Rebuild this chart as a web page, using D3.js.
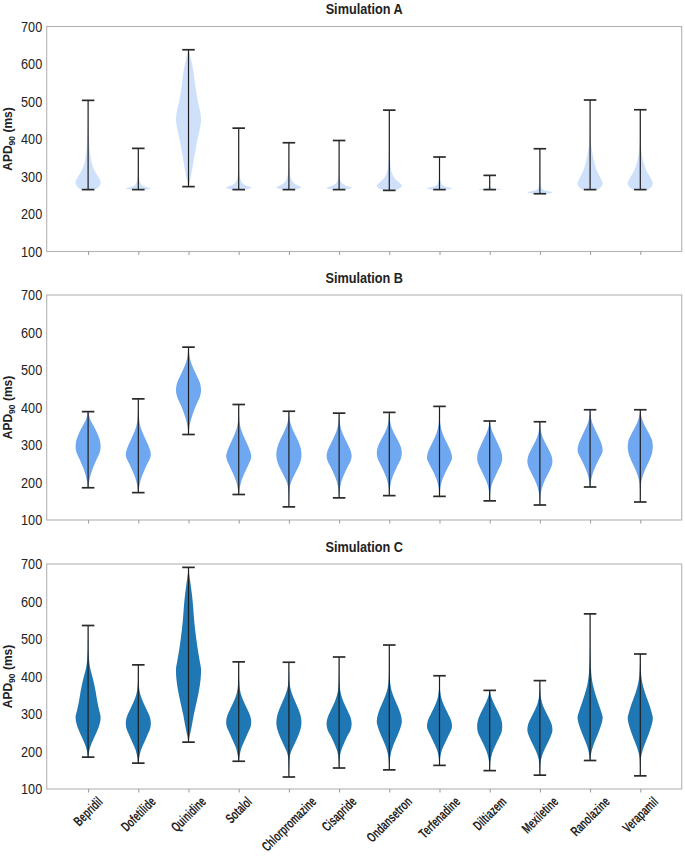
<!DOCTYPE html>
<html><head><meta charset="utf-8">
<script src="https://cdn.jsdelivr.net/npm/d3@7"></script>
<style>
html,body{margin:0;padding:0;background:#fff;}
svg{display:block;}
</style></head>
<body>
<svg id="chart" width="685" height="860"></svg>
<script>
// ---------- data ----------
const drugs = ["Bepridil","Dofetilide","Quinidine","Sotalol","Chlorpromazine","Cisapride",
  "Ondansetron","Terfenadine","Diltiazem","Mexiletine","Ranolazine","Verapamil"];
const yTickValues = [100,200,300,400,500,600,700];
const titles = ["Simulation A","Simulation B","Simulation C"];

// extremes (ms)
const minA = [265,265,273,265,265,265,263,265,265,254,265,265];
const maxA = [503,375,638,429,390,396,477,352,303,374,504,478];
const minB = [186,173,328,168,135,159,165,163,151,140,188,148];
const maxB = [389,423,561,408,390,385,387,403,364,362,394,394];
const minC = [185,169,225,174,132,156,151,163,149,137,176,135];
const maxC = [536,431,691,439,438,452,484,402,363,389,567,460];

// violin profiles: [value (ms), relative half-width]
const shapeA = [
  [[265,0.55],[275,0.9],[285,1.0],[300,0.8],[317,0.5],[335,0.3],[360,0.16],[400,0.07],[440,0.02],[503,0.005]],
  [[265,0.6],[268,1.0],[272,0.6],[278,0.25],[290,0.1],[310,0.03],[375,0.005]],
  [[273,0.02],[290,0.12],[320,0.3],[360,0.5],[400,0.72],[430,0.92],[450,1.0],[470,0.95],[500,0.75],[540,0.55],[580,0.4],[610,0.22],[630,0.07],[638,0.02]],
  [[265,0.5],[268,0.9],[271,1.0],[276,0.6],[283,0.3],[295,0.12],[310,0.05],[340,0.02],[429,0.003]],
  [[265,0.45],[268,0.85],[272,1.0],[277,0.65],[285,0.35],[297,0.15],[315,0.05],[340,0.02],[390,0.003]],
  [[265,0.5],[268,0.9],[271,1.0],[275,0.6],[282,0.25],[292,0.08],[310,0.03],[396,0.003]],
  [[263,0.45],[268,0.8],[276,1.0],[285,0.75],[297,0.4],[310,0.2],[330,0.09],[360,0.04],[400,0.015],[477,0.003]],
  [[265,0.5],[267,0.9],[269,1.0],[273,0.5],[280,0.15],[295,0.04],[352,0.003]],
  [[265,0.7],[266,1.0],[268,0.4],[272,0.06],[285,0.01],[303,0.002]],
  [[254,0.5],[256,0.9],[258,1.0],[262,0.5],[268,0.15],[285,0.04],[374,0.003]],
  [[265,0.6],[272,0.88],[282,1.0],[295,0.85],[315,0.55],[340,0.33],[360,0.2],[385,0.08],[420,0.03],[460,0.01],[504,0.003]],
  [[265,0.6],[272,0.88],[283,1.0],[295,0.85],[315,0.5],[340,0.25],[360,0.12],[390,0.05],[430,0.015],[478,0.003]]
];
const shapeB = [
  [[186,0.02],[200,0.07],[220,0.2],[240,0.4],[262,0.68],[282,0.94],[296,1.0],[312,0.94],[330,0.75],[350,0.45],[370,0.15],[389,0.02]],
  [[173,0.02],[190,0.08],[210,0.22],[230,0.45],[250,0.72],[265,0.94],[274,1.0],[290,0.9],[310,0.65],[330,0.38],[350,0.16],[375,0.05],[400,0.015],[423,0.005]],
  [[328,0.02],[350,0.08],[370,0.22],[390,0.42],[410,0.66],[430,0.92],[447,1.0],[465,0.92],[485,0.66],[505,0.38],[525,0.16],[545,0.05],[561,0.01]],
  [[168,0.02],[185,0.08],[205,0.22],[225,0.46],[245,0.74],[260,0.94],[270,1.0],[285,0.9],[305,0.65],[325,0.38],[345,0.16],[365,0.05],[390,0.015],[408,0.005]],
  [[135,0.005],[165,0.02],[190,0.08],[205,0.22],[225,0.5],[245,0.8],[262,0.97],[274,1.0],[290,0.95],[310,0.75],[330,0.46],[350,0.2],[370,0.05],[390,0.01]],
  [[159,0.01],[180,0.05],[200,0.16],[220,0.38],[240,0.65],[258,0.92],[270,1.0],[285,0.92],[305,0.65],[325,0.36],[345,0.14],[365,0.04],[385,0.01]],
  [[165,0.01],[185,0.05],[205,0.16],[225,0.38],[245,0.65],[265,0.93],[279,1.0],[295,0.92],[315,0.65],[335,0.33],[355,0.11],[372,0.04],[387,0.01]],
  [[163,0.01],[185,0.06],[205,0.2],[225,0.44],[245,0.74],[258,0.94],[265,1.0],[280,0.93],[300,0.67],[320,0.38],[340,0.16],[360,0.05],[380,0.015],[403,0.005]],
  [[151,0.01],[175,0.05],[195,0.17],[215,0.42],[235,0.7],[252,0.94],[265,1.0],[280,0.94],[300,0.7],[320,0.42],[340,0.16],[355,0.05],[364,0.01]],
  [[140,0.01],[165,0.05],[185,0.16],[205,0.38],[225,0.67],[245,0.94],[256,1.0],[270,0.94],[290,0.67],[310,0.36],[330,0.13],[348,0.04],[362,0.01]],
  [[188,0.02],[205,0.07],[225,0.22],[245,0.46],[265,0.75],[278,0.95],[287,1.0],[300,0.94],[320,0.7],[340,0.42],[360,0.16],[378,0.05],[394,0.01]],
  [[148,0.005],[175,0.02],[200,0.07],[220,0.22],[240,0.46],[260,0.74],[280,0.95],[296,1.0],[312,0.94],[330,0.7],[350,0.38],[370,0.13],[385,0.04],[394,0.01]]
];
const shapeC = [
  [[185,0.02],[200,0.08],[215,0.2],[235,0.45],[255,0.72],[275,0.93],[291,1.0],[310,0.88],[330,0.75],[360,0.6],[385,0.45],[405,0.3],[425,0.15],[450,0.06],[480,0.02],[536,0.005]],
  [[169,0.02],[185,0.08],[205,0.22],[225,0.48],[245,0.74],[262,0.95],[276,1.0],[292,0.92],[312,0.66],[332,0.38],[352,0.16],[375,0.05],[400,0.015],[431,0.005]],
  [[225,0.02],[240,0.08],[255,0.18],[270,0.27],[298,0.42],[328,0.62],[360,0.82],[395,0.97],[418,1.0],[440,0.9],[470,0.75],[500,0.62],[550,0.45],[590,0.36],[620,0.27],[650,0.15],[675,0.05],[691,0.01]],
  [[174,0.02],[190,0.08],[210,0.22],[230,0.48],[250,0.74],[266,0.95],[279,1.0],[295,0.92],[315,0.66],[335,0.38],[355,0.16],[380,0.05],[410,0.015],[439,0.005]],
  [[132,0.005],[160,0.02],[185,0.06],[200,0.18],[220,0.45],[240,0.72],[260,0.93],[276,1.0],[295,0.94],[315,0.74],[335,0.48],[355,0.24],[375,0.08],[400,0.02],[438,0.005]],
  [[156,0.01],[180,0.04],[200,0.14],[220,0.37],[240,0.64],[258,0.92],[274,1.0],[290,0.92],[310,0.66],[330,0.38],[350,0.17],[370,0.06],[400,0.02],[452,0.005]],
  [[151,0.01],[175,0.04],[195,0.12],[215,0.3],[235,0.55],[255,0.8],[270,0.95],[280,1.0],[300,0.9],[320,0.68],[340,0.42],[360,0.2],[380,0.08],[410,0.025],[450,0.01],[484,0.005]],
  [[163,0.01],[185,0.06],[205,0.2],[225,0.47],[245,0.75],[258,0.94],[267,1.0],[282,0.93],[302,0.66],[322,0.37],[342,0.15],[362,0.05],[385,0.015],[402,0.005]],
  [[149,0.01],[175,0.06],[195,0.19],[215,0.43],[235,0.72],[252,0.95],[267,1.0],[282,0.95],[302,0.72],[322,0.42],[342,0.16],[355,0.05],[363,0.01]],
  [[137,0.005],[160,0.03],[180,0.1],[200,0.3],[220,0.58],[240,0.86],[258,1.0],[272,0.94],[292,0.68],[312,0.38],[332,0.15],[352,0.05],[372,0.015],[389,0.005]],
  [[176,0.02],[190,0.06],[205,0.15],[225,0.35],[245,0.6],[265,0.82],[280,0.96],[291,1.0],[305,0.9],[325,0.7],[345,0.5],[365,0.32],[385,0.18],[410,0.09],[440,0.04],[480,0.015],[567,0.003]],
  [[135,0.005],[160,0.02],[185,0.06],[205,0.2],[225,0.42],[245,0.65],[265,0.85],[289,1.0],[305,0.9],[325,0.72],[345,0.5],[365,0.3],[385,0.15],[405,0.07],[430,0.03],[460,0.005]]
];

// ---------- layout ----------
const svg = d3.select("#chart");
const left = 46.7, right = 681.7;
const panelTops = [26.5, 295, 564];
const panelH = 225;
const fills = ["#cfe1fa", "#6fa8f1", "#1f77b4"];
const sans = "'Liberation Sans',Arial,'DejaVu Sans',sans-serif";
const squeeze = 0.82;   // narrow-face look
const squeezeX = 0.66;  // category labels

const x = d3.scaleLinear().domain([0.175, 12.825]).range([left, right]);
const halfW = x(1.25) - x(1);
const capW = x(1.125) - x(1);

const panels = [
  {title: titles[0], mins: minA, maxs: maxA, shapes: shapeA, fill: fills[0]},
  {title: titles[1], mins: minB, maxs: maxB, shapes: shapeB, fill: fills[1]},
  {title: titles[2], mins: minC, maxs: maxC, shapes: shapeC, fill: fills[2]}
];

panels.forEach((p, pi) => {
  const top = panelTops[pi];
  const y = d3.scaleLinear().domain([100, 700]).range([top + panelH, top]);
  const g = svg.append("g");

  // frame
  g.append("rect").attr("x", left).attr("y", top).attr("width", right - left).attr("height", panelH)
    .attr("fill", "none").attr("stroke", "#b3b3b3").attr("stroke-width", 1.1);

  // y axis labels
  const yAxis = d3.axisLeft(y).tickValues(yTickValues).tickSize(0).tickPadding(0);
  const ya = g.append("g").attr("transform", `translate(${left},0)`).call(yAxis);
  ya.select(".domain").remove();
  ya.selectAll("text").attr("x", 0).attr("font-family", sans).attr("font-size", 15.5).attr("fill", "#222")
    .attr("transform", `translate(-4.5,0) scale(${squeeze},1)`);

  // x ticks
  const xAxis = d3.axisBottom(x).tickValues(d3.range(1, 13)).tickSize(3.5).tickFormat("");
  const xa = g.append("g").attr("transform", `translate(0,${top + panelH})`).call(xAxis);
  xa.select(".domain").remove();
  xa.selectAll("line").attr("stroke", "#999");

  // title
  g.append("text").attr("transform", `translate(${(left + right) / 2},${top - 12.5}) scale(${squeeze},1)`)
    .attr("text-anchor", "middle").attr("font-family", sans).attr("font-weight", "bold")
    .attr("font-size", 15.5).attr("fill", "#222").text(p.title);

  // y label
  const yl = g.append("text").attr("transform", `translate(12,${top + panelH / 2}) rotate(-90)`)
    .attr("text-anchor", "middle").attr("font-family", sans).attr("font-weight", "bold")
    .attr("font-size", 12).attr("fill", "#222");
  yl.append("tspan").text("APD");
  yl.append("tspan").attr("font-size", 8.5).attr("dy", 3).text("90");
  yl.append("tspan").attr("dy", -3).text(" (ms)");

  // violins
  drugs.forEach((d, i) => {
    const cx = x(i + 1);
    const area = d3.area()
      .y(v => y(v[0]))
      .x0(v => cx - v[1] * halfW)
      .x1(v => cx + v[1] * halfW)
      .curve(d3.curveMonotoneY);
    g.append("path").attr("d", area(p.shapes[i])).attr("fill", p.fill).attr("stroke", "none");
  });
  drugs.forEach((d, i) => {
    const cx = x(i + 1);
    g.append("line").attr("x1", cx).attr("x2", cx).attr("y1", y(p.mins[i])).attr("y2", y(p.maxs[i]))
      .attr("stroke", "#1e1e1e").attr("stroke-width", 1.2);
    [p.mins[i], p.maxs[i]].forEach(v => {
      g.append("line").attr("x1", cx - capW).attr("x2", cx + capW).attr("y1", y(v)).attr("y2", y(v))
        .attr("stroke", "#2a2a2a").attr("stroke-width", 1.7);
    });
  });

  // x labels only on bottom panel
  if (pi === 2) {
    drugs.forEach((d, i) => {
      const t = g.append("text").attr("font-family", sans).attr("font-weight", "bold")
        .attr("font-size", 14).attr("fill", "#222").attr("text-anchor", "middle")
        .attr("dominant-baseline", "central").text(d);
      const W = t.node().getComputedTextLength() * squeezeX;
      const H = 12;
      const half = (W + H) / (2 * Math.SQRT2);
      t.attr("transform", `translate(${x(i + 1)},${top + panelH + 6 + half}) rotate(-45) scale(${squeezeX},1)`);
    });
  }
});
</script>
</body></html>
